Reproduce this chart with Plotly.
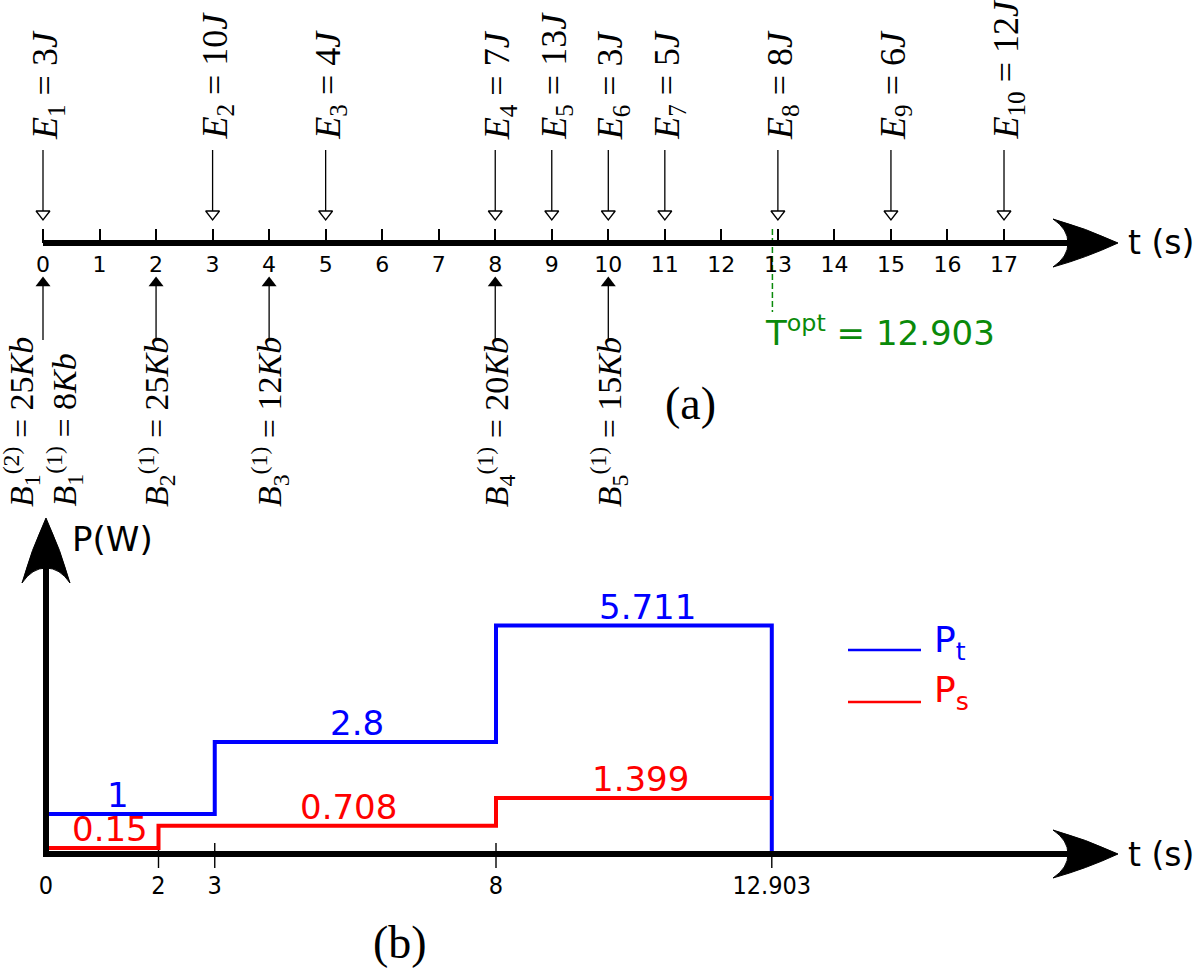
import plotly.graph_objects as go

# ---------------- data ----------------
e_times = [0, 3, 5, 8, 9, 10, 11, 13, 15, 17]
e_energy = [3, 10, 4, 7, 13, 3, 5, 8, 6, 12]

b_times = [0, 0, 2, 4, 8, 10]
b_sub = [1, 1, 2, 3, 4, 5]
b_sup = [2, 1, 1, 1, 1, 1]
b_size = [25, 8, 25, 12, 20, 15]

timeline_ticks = list(range(18))
t_opt = 12.903

pt_breaks = [0, 3, 8, 12.903]
pt_values = [1, 2.8, 5.711]
ps_breaks = [0, 2, 8, 12.903]
ps_values = [0.15, 0.708, 1.399]
power_tick_vals = [0, 2, 3, 8, 12.903]
power_tick_text = ["0", "2", "3", "8", "12.903"]

# ---------------- layout constants (pixels) ----------------
W, H = 1200, 968
TOP_AXIS = 243          # pixel row of timeline axis
BOT_AXIS = 854          # pixel row of power axis
PX_PER_W = 40.0
TOP_X0_PX, TOP_SCALE = 43.0, 56.53
BOT_X0_PX, BOT_SCALE = 46.0, 56.25

SERIF = "Liberation Serif, Times New Roman, serif"
SANS = "DejaVu Sans, Verdana, sans-serif"
NARROW = "Liberation Sans Narrow, DejaVu Sans Condensed, Arial Narrow, sans-serif"
GREEN = "#0a8a0a"
BLUE = "#0000ff"
RED = "#ff0000"

b_label_xshift = [-22, 21, 0, 0, 0, 0]
pt_label_xshift = [-12, 2, 14]
ps_label_xshift = [8, 21, 7]


def ytop(p):
    return TOP_AXIS - p


def ybot(p):
    return (BOT_AXIS - p) / PX_PER_W


def pxx(p):
    return p / W


def pxy(p):
    return 1 - p / H


def path_px(cmds):
    out = []
    for c in cmds:
        if c == "Z":
            out.append("Z")
            continue
        op, pts = c[0], c[1:]
        s = " ".join(f"{pxx(x):.5f},{pxy(y):.5f}" for x, y in pts)
        out.append(f"{op} {s}")
    return " ".join(out)


def arrowhead(tx, ty, direction):
    # local (u along, v across) -> pixel
    def tr(u, v):
        if direction == "right":
            return (tx + u, ty + v)
        return (tx + v, ty - u)  # up
    L, Hw, N = 65, 24, 50
    cmds = [
        ("M", tr(0, 0)),
        ("Q", tr(-L / 2, -Hw / 2 - 3), tr(-L, -Hw)),
        ("Q", tr(-N, -Hw / 2 - 2), tr(-N, 0)),
        ("Q", tr(-N, Hw / 2 + 2), tr(-L, Hw)),
        ("Q", tr(-L / 2, Hw / 2 + 3), tr(0, 0)),
        "Z",
    ]
    return dict(type="path", xref="paper", yref="paper",
                path=path_px(cmds), fillcolor="black",
                line=dict(color="black", width=1), layer="above")


fig = go.Figure()

# ---- energy arrivals (down arrows, open heads) ----
xs, ys = [], []
for t in e_times:
    xs += [t, t, None]
    ys += [ytop(150), ytop(211), None]
fig.add_trace(go.Scatter(x=xs, y=ys, mode="lines", xaxis="x", yaxis="y",
                         line=dict(color="black", width=1.3), hoverinfo="skip"))
fig.add_trace(go.Scatter(x=e_times, y=[ytop(214)] * len(e_times), mode="markers",
                         xaxis="x", yaxis="y", hoverinfo="skip",
                         marker=dict(symbol="triangle-down", size=12, color="white",
                                     line=dict(color="black", width=1.3))))

# ---- data arrivals (up arrows, filled heads) ----
b_unique = sorted(set(b_times))
xs, ys = [], []
for t in b_unique:
    xs += [t, t, None]
    ys += [ytop(340), ytop(285), None]
fig.add_trace(go.Scatter(x=xs, y=ys, mode="lines", xaxis="x", yaxis="y",
                         line=dict(color="black", width=1.3), hoverinfo="skip"))
fig.add_trace(go.Scatter(x=b_unique, y=[ytop(283)] * len(b_unique), mode="markers",
                         xaxis="x", yaxis="y", hoverinfo="skip",
                         marker=dict(symbol="triangle-up", size=13, color="black",
                                     line=dict(color="black", width=0))))

# ---- T_opt dashed marker ----
fig.add_trace(go.Scatter(x=[t_opt, t_opt], y=[ytop(229), ytop(312)], mode="lines",
                         xaxis="x", yaxis="y", hoverinfo="skip",
                         line=dict(color=GREEN, width=1.5, dash="6px,3px")))

# ---- power plot ticks crossing the axis ----
xs, ys = [], []
for t in power_tick_vals[1:]:
    xs += [t, t, None]
    ys += [ybot(868), ybot(843), None]
fig.add_trace(go.Scatter(x=xs, y=ys, mode="lines", xaxis="x2", yaxis="y2",
                         line=dict(color="black", width=1.4), hoverinfo="skip"))

# ---- power steps ----
fig.add_trace(go.Scatter(x=pt_breaks + [pt_breaks[-1]],
                         y=pt_values + [pt_values[-1], 0],
                         mode="lines", line_shape="hv", xaxis="x2", yaxis="y2",
                         line=dict(color=BLUE, width=4), name="Pt", hoverinfo="skip"))
fig.add_trace(go.Scatter(x=ps_breaks,
                         y=ps_values + [ps_values[-1]],
                         mode="lines", line_shape="hv", xaxis="x2", yaxis="y2",
                         line=dict(color=RED, width=4), name="Ps", hoverinfo="skip"))

# ---------------- annotations ----------------
ann = []
for i, (t, e) in enumerate(zip(e_times, e_energy)):
    ann.append(dict(x=t, y=ytop(141), xref="x", yref="y", showarrow=False,
                    text=f"<i>E</i><sub>{i + 1}</sub> = {e}<i>J</i>",
                    textangle=-90, xanchor="center", yanchor="bottom", xshift=4,
                    borderpad=0,
                    font=dict(family=SERIF, size=36, color="black")))
for t, sb, sp, s, dx in zip(b_times, b_sub, b_sup, b_size, b_label_xshift):
    ann.append(dict(x=t, y=ytop(508), xref="x", yref="y", showarrow=False,
                    text=f"<i>B</i><sub>{sb}</sub><sup>({sp})</sup> = {s}<i>Kb</i>",
                    textangle=-90, xanchor="center", yanchor="bottom", xshift=dx,
                    borderpad=0,
                    font=dict(family=SERIF, size=34, color="black")))
ann.append(dict(x=t_opt, y=ytop(331), xref="x", yref="y", showarrow=False,
                text=f"T<sup>opt</sup> = {t_opt}", xanchor="left", yanchor="middle",
                xshift=-9, font=dict(family=SANS, size=34, color=GREEN)))

for brk, vals, shifts, col in ((pt_breaks, pt_values, pt_label_xshift, BLUE),
                               (ps_breaks, ps_values, ps_label_xshift, RED)):
    for i, v in enumerate(vals):
        ann.append(dict(x=(brk[i] + brk[i + 1]) / 2, y=v, xref="x2", yref="y2",
                        showarrow=False, text=f"{v}", xanchor="center",
                        yanchor="bottom", xshift=shifts[i], yshift=-2, borderpad=0,
                        font=dict(family=SANS, size=34, color=col)))

ann += [
    dict(x=pxx(690), y=pxy(403), xref="paper", yref="paper", text="(a)",
         showarrow=False, xanchor="center", yanchor="middle",
         font=dict(family=SERIF, size=46, color="black")),
    dict(x=pxx(400), y=pxy(942), xref="paper", yref="paper", text="(b)",
         showarrow=False, xanchor="center", yanchor="middle",
         font=dict(family=SERIF, size=46, color="black")),
    dict(x=pxx(1126), y=pxy(TOP_AXIS), xref="paper", yref="paper", text="t (s)",
         showarrow=False, xanchor="left", yanchor="middle",
         font=dict(family=SANS, size=33, color="black")),
    dict(x=pxx(1126), y=pxy(BOT_AXIS), xref="paper", yref="paper", text="t (s)",
         showarrow=False, xanchor="left", yanchor="middle",
         font=dict(family=SANS, size=33, color="black")),
    dict(x=pxx(70), y=pxy(539), xref="paper", yref="paper", text="P(W)",
         showarrow=False, xanchor="left", yanchor="middle",
         font=dict(family=SANS, size=34, color="black")),
    dict(x=pxx(932), y=pxy(642), xref="paper", yref="paper", text="P<sub>t</sub>",
         showarrow=False, xanchor="left", yanchor="middle",
         font=dict(family=SANS, size=36, color=BLUE)),
    dict(x=pxx(932), y=pxy(692), xref="paper", yref="paper", text="P<sub>s</sub>",
         showarrow=False, xanchor="left", yanchor="middle",
         font=dict(family=SANS, size=36, color=RED)),
]

# ---------------- shapes (axis lines / arrowheads / legend keys) ----------------
shapes = [
    dict(type="line", xref="paper", yref="paper", x0=pxx(TOP_X0_PX), x1=pxx(1080),
         y0=pxy(TOP_AXIS), y1=pxy(TOP_AXIS), line=dict(color="black", width=6)),
    arrowhead(1118, TOP_AXIS, "right"),
    dict(type="line", xref="paper", yref="paper", x0=pxx(BOT_X0_PX - 3), x1=pxx(1080),
         y0=pxy(BOT_AXIS), y1=pxy(BOT_AXIS), line=dict(color="black", width=6)),
    arrowhead(1118, BOT_AXIS, "right"),
    dict(type="line", xref="paper", yref="paper", x0=pxx(BOT_X0_PX), x1=pxx(BOT_X0_PX),
         y0=pxy(BOT_AXIS + 3), y1=pxy(560), line=dict(color="black", width=6)),
    arrowhead(BOT_X0_PX, 518, "up"),
    dict(type="line", xref="paper", yref="paper", x0=pxx(848), x1=pxx(921),
         y0=pxy(650), y1=pxy(650), line=dict(color=BLUE, width=2.5)),
    dict(type="line", xref="paper", yref="paper", x0=pxx(848), x1=pxx(921),
         y0=pxy(702), y1=pxy(702), line=dict(color=RED, width=2.5)),
]

top_x0 = -TOP_X0_PX / TOP_SCALE
bot_x0 = -BOT_X0_PX / BOT_SCALE

fig.update_layout(
    width=W, height=H, margin=dict(l=0, r=0, t=0, b=0),
    paper_bgcolor="white", plot_bgcolor="white", showlegend=False,
    annotations=ann, shapes=shapes,
    xaxis=dict(range=[top_x0, top_x0 + W / TOP_SCALE], domain=[0, 1],
               anchor="free", position=pxy(TOP_AXIS), side="bottom",
               tickmode="array", tickvals=timeline_ticks,
               ticktext=[str(v) for v in timeline_ticks],
               ticks="inside", ticklen=14, tickwidth=1.5, tickcolor="black",
               ticklabelstandoff=6,
               tickfont=dict(family=SANS, size=22, color="black"),
               showline=False, showgrid=False, zeroline=False, fixedrange=True),
    yaxis=dict(range=[TOP_AXIS - H, TOP_AXIS], domain=[0, 1], visible=False,
               fixedrange=True),
    xaxis2=dict(range=[bot_x0, bot_x0 + W / BOT_SCALE], domain=[0, 1],
                overlaying="x", anchor="free", position=pxy(BOT_AXIS), side="bottom",
                tickmode="array", tickvals=power_tick_vals, ticktext=power_tick_text,
                ticks="", ticklabelstandoff=14,
                tickfont=dict(family=NARROW, size=25, color="black"),
                showline=False, showgrid=False, zeroline=False, fixedrange=True),
    yaxis2=dict(range=[(BOT_AXIS - H) / PX_PER_W, BOT_AXIS / PX_PER_W], domain=[0, 1],
                overlaying="y", visible=False, fixedrange=True),
)

fig.write_html(
    "out.html",
    config={"displayModeBar": False},
    post_script="document.body.style.margin='0px';document.body.style.overflow='hidden';",
)
